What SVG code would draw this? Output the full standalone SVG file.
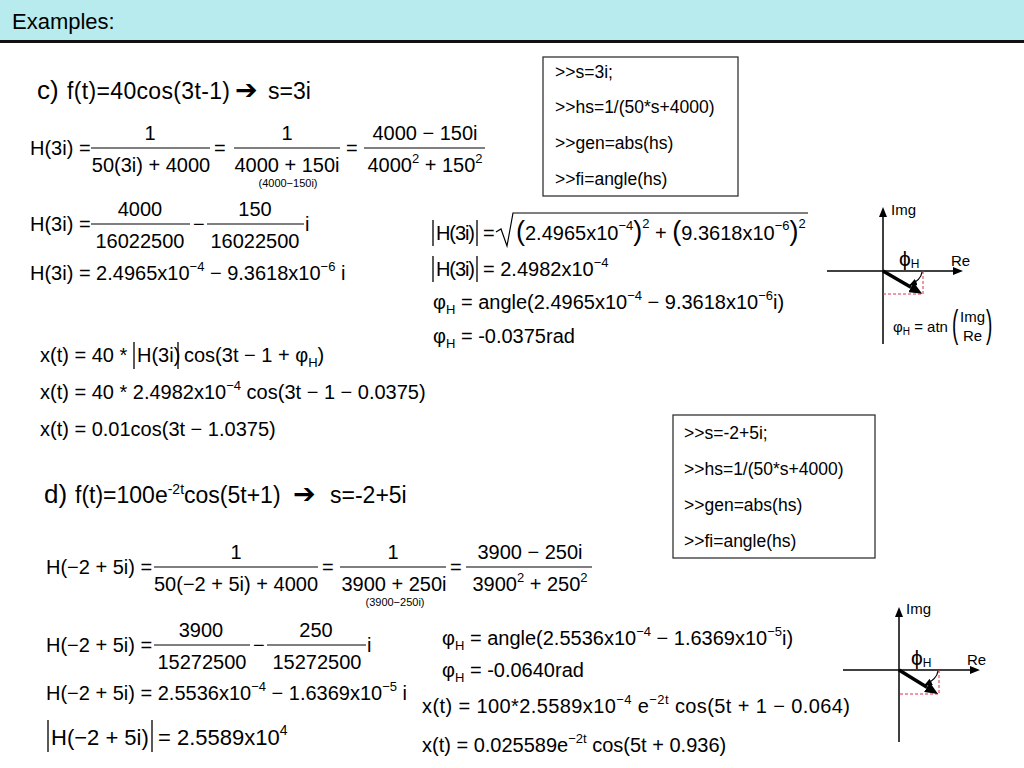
<svg xmlns="http://www.w3.org/2000/svg" width="1024" height="768" viewBox="0 0 1024 768">
<defs>
<style>
text{font-family:"Liberation Sans",Arial,"DejaVu Sans",sans-serif;fill:#000}
.m{font-size:20px}
.s{font-size:13px}
.sm{font-size:11px}
.c{font-size:17.5px}
.h{font-size:23px}
.mid{text-anchor:middle}
.bar{stroke:#000;stroke-width:1.2}
.ab{stroke:#000;stroke-width:1.3}
.ax{stroke:#000;stroke-width:1.5;fill:none}
.bold{stroke:#000;stroke-width:3.5;fill:none}
.thin{stroke:#000;stroke-width:1.2;fill:none}
.dash{stroke:#e0304a;stroke-width:1;stroke-dasharray:3 2;fill:none}
.box{fill:#fff;stroke:#333;stroke-width:1.3}
.lab{font-size:15px}
.arr{font-family:"DejaVu Sans",sans-serif;font-size:27px}
</style>
<marker id="tri" viewBox="0 0 10 8" refX="0" refY="4" markerWidth="10" markerHeight="8" markerUnits="userSpaceOnUse" orient="auto"><path d="M0,0 L10,4 L0,8 Z" fill="#000"/></marker>
<marker id="big" viewBox="0 0 13 11" refX="0" refY="5.5" markerWidth="13" markerHeight="11" markerUnits="userSpaceOnUse" orient="auto"><path d="M0,0 L13,5.5 L0,11 Z" fill="#000"/></marker>
<marker id="sm" viewBox="0 0 8 7" refX="7" refY="3.5" markerWidth="8" markerHeight="7" markerUnits="userSpaceOnUse" orient="auto"><path d="M0,0 L8,3.5 L0,7 Z" fill="#000"/></marker>
</defs>
<rect width="1024" height="768" fill="#fff"/>

<g id="title">
<rect x="0" y="0" width="1024" height="41" fill="#b8ebee"/>
<rect x="0" y="40" width="1024" height="3" fill="#111"/>
<text x="12" y="29" font-size="22">Examples:</text>
</g>

<g id="part-c">
<text x="37" y="99" font-size="26">c)</text>
<text x="67" y="99" class="h" textLength="163">f(t)=40cos(3t-1)</text>
<text x="235" y="99" class="arr">➔</text>
<text x="268" y="99" class="h">s=3i</text>

<text class="m" x="30" y="155">H(3i) =</text>
<line class="bar" x1="91" y1="148" x2="210" y2="148"/>
<text class="m mid" x="150" y="140">1</text>
<text class="m mid" x="151" y="172">50(3i) + 4000</text>
<text class="m" x="214" y="155">=</text>
<line class="bar" x1="234" y1="148" x2="340" y2="148"/>
<text class="m mid" x="287" y="140">1</text>
<text class="m mid" x="287" y="172">4000 + 150i</text>
<text class="sm mid" x="288" y="187">(4000−150i)</text>
<text class="m" x="346" y="155">=</text>
<line class="bar" x1="364" y1="148" x2="485" y2="148"/>
<text class="m mid" x="425" y="140">4000 − 150i</text>
<text class="m mid" x="425" y="172">4000<tspan class="s" dy="-9">2</tspan><tspan dy="9"> + 150</tspan><tspan class="s" dy="-9">2</tspan></text>

<text class="m" x="30" y="231">H(3i) =</text>
<line class="bar" x1="91" y1="224" x2="190" y2="224"/>
<text class="m mid" x="140" y="216">4000</text>
<text class="m mid" x="140" y="248">16022500</text>
<text class="m" x="193" y="231">−</text>
<line class="bar" x1="207" y1="224" x2="304" y2="224"/>
<text class="m mid" x="255" y="216">150</text>
<text class="m mid" x="255" y="248">16022500</text>
<text class="m" x="305" y="231">i</text>

<text class="m" x="30" y="280">H(3i) = 2.4965x10<tspan class="s" dy="-9">−4</tspan><tspan dy="9"> − 9.3618x10</tspan><tspan class="s" dy="-9">−6</tspan><tspan dy="9"> i</tspan></text>

<text class="m" x="40" y="362">x(t) = 40 *</text>
<line class="ab" x1="134" y1="342" x2="134" y2="369"/>
<text class="m" x="137" y="362">H(3i)</text>
<line class="ab" x1="178" y1="342" x2="178" y2="369"/>
<text class="m" x="184" y="362">cos(3t − 1 + φ<tspan class="s" dy="5">H</tspan><tspan dy="-5">)</tspan></text>

<text class="m" x="40" y="399">x(t) = 40 * 2.4982x10<tspan class="s" dy="-9">−4</tspan><tspan dy="9"> cos(3t − 1 − 0.0375)</tspan></text>
<text class="m" x="40" y="436">x(t) = 0.01cos(3t − 1.0375)</text>

<line class="ab" x1="433" y1="220" x2="433" y2="246"/>
<text class="m" x="436" y="240" textLength="39">H(3i)</text>
<line class="ab" x1="477" y1="220" x2="477" y2="246"/>
<text class="m" x="483" y="240">=</text>
<polyline class="thin" points="496,232 501,229 507,246 513,213 808,213"/>
<text class="m" x="516" y="240"><tspan font-size="27">(</tspan>2.4965x10<tspan class="s" dy="-10">−4</tspan><tspan font-size="27" dy="10">)</tspan><tspan class="s" dy="-12">2</tspan><tspan dy="12"> + </tspan><tspan font-size="27">(</tspan>9.3618x10<tspan class="s" dy="-10">−6</tspan><tspan font-size="27" dy="10">)</tspan><tspan class="s" dy="-12">2</tspan></text>

<line class="ab" x1="433" y1="256" x2="433" y2="282"/>
<text class="m" x="436" y="276" textLength="39">H(3i)</text>
<line class="ab" x1="477" y1="256" x2="477" y2="282"/>
<text class="m" x="483" y="276">= 2.4982x10<tspan class="s" dy="-9">−4</tspan></text>

<text class="m" x="433" y="309">φ<tspan class="s" dy="5">H</tspan><tspan dy="-5"> = angle(2.4965x10</tspan><tspan class="s" dy="-9">−4</tspan><tspan dy="9"> − 9.3618x10</tspan><tspan class="s" dy="-9">−6</tspan><tspan dy="9">i)</tspan></text>
<text class="m" x="433" y="343">φ<tspan class="s" dy="5">H</tspan><tspan dy="-5"> = -0.0375rad</tspan></text>
</g>

<g id="code-c">
<rect class="box" x="543" y="57" width="195" height="139"/>
<text class="c" x="555" y="78">&gt;&gt;s=3i;</text>
<text class="c" x="555" y="113">&gt;&gt;hs=1/(50*s+4000)</text>
<text class="c" x="555" y="149">&gt;&gt;gen=abs(hs)</text>
<text class="c" x="555" y="185">&gt;&gt;fi=angle(hs)</text>
</g>

<g id="phasor-c">
<line class="ax" x1="883" y1="344" x2="883" y2="217" marker-end="url(#tri)"/>
<line class="ax" x1="827" y1="271" x2="953" y2="271" marker-end="url(#tri)"/>
<text class="lab" x="891" y="215">Img</text>
<text class="lab" x="951" y="266">Re</text>
<text x="899" y="266" font-size="21">ϕ<tspan font-size="12" dy="2">H</tspan></text>
<path class="dash" d="M923,271 V294 H883"/>
<line class="bold" x1="883" y1="271" x2="911" y2="287.3" marker-end="url(#big)"/>
<path class="thin" d="M922,272 Q921,280 910,285" marker-end="url(#sm)"/>
<text x="893" y="332" font-size="15">φ<tspan font-size="10" dy="3">H</tspan><tspan dy="-3"> = atn</tspan></text>
<text transform="translate(952,337) scale(0.5,1)" font-size="38">(</text>
<text x="960" y="322" font-size="15">Img</text>
<text x="963" y="341" font-size="15">Re</text>
<text transform="translate(986,337) scale(0.5,1)" font-size="38">)</text>
</g>

<g id="part-d">
<text x="44" y="503" font-size="26">d)</text>
<text x="75" y="503" class="h">f(t)=100e<tspan font-size="14" dy="-9">-2t</tspan><tspan dy="9">cos(5t+1)</tspan></text>
<text x="293" y="503" class="arr">➔</text>
<text x="330" y="503" class="h">s=-2+5i</text>

<text class="m" x="46" y="574">H(−2 + 5i) =</text>
<line class="bar" x1="154" y1="567" x2="318" y2="567"/>
<text class="m mid" x="236" y="559">1</text>
<text class="m mid" x="236" y="591">50(−2 + 5i) + 4000</text>
<text class="m" x="322" y="574">=</text>
<line class="bar" x1="340" y1="567" x2="446" y2="567"/>
<text class="m mid" x="393" y="559">1</text>
<text class="m mid" x="394" y="591">3900 + 250i</text>
<text class="sm mid" x="395" y="606">(3900−250i)</text>
<text class="m" x="450" y="574">=</text>
<line class="bar" x1="466" y1="567" x2="592" y2="567"/>
<text class="m mid" x="530" y="559">3900 − 250i</text>
<text class="m mid" x="530" y="591">3900<tspan class="s" dy="-9">2</tspan><tspan dy="9"> + 250</tspan><tspan class="s" dy="-9">2</tspan></text>

<text class="m" x="46" y="652">H(−2 + 5i) =</text>
<line class="bar" x1="154" y1="645" x2="250" y2="645"/>
<text class="m mid" x="201" y="637">3900</text>
<text class="m mid" x="202" y="669">15272500</text>
<text class="m" x="253" y="652">−</text>
<line class="bar" x1="267" y1="645" x2="366" y2="645"/>
<text class="m mid" x="316" y="637">250</text>
<text class="m mid" x="317" y="669">15272500</text>
<text class="m" x="367" y="652">i</text>

<text class="m" x="46" y="700">H(−2 + 5i) = 2.5536x10<tspan class="s" dy="-9">−4</tspan><tspan dy="9"> − 1.6369x10</tspan><tspan class="s" dy="-9">−5</tspan><tspan dy="9"> i</tspan></text>

<line class="ab" x1="48" y1="720" x2="48" y2="752"/>
<text x="51" y="745" font-size="22">H(−2 + 5i)</text>
<line class="ab" x1="152" y1="720" x2="152" y2="752"/>
<text x="158" y="745" font-size="22">= 2.5589x10<tspan font-size="14" dy="-10">4</tspan></text>

<text class="m" x="442" y="645">φ<tspan class="s" dy="5">H</tspan><tspan dy="-5"> = angle(2.5536x10</tspan><tspan class="s" dy="-9">−4</tspan><tspan dy="9"> − 1.6369x10</tspan><tspan class="s" dy="-9">−5</tspan><tspan dy="9">i)</tspan></text>
<text class="m" x="442" y="677">φ<tspan class="s" dy="5">H</tspan><tspan dy="-5"> = -0.0640rad</tspan></text>
<text class="m" x="422" y="713" textLength="428">x(t) = 100*2.5589x10<tspan class="s" dy="-9">−4</tspan><tspan dy="9"> e</tspan><tspan class="s" dy="-9">−2t</tspan><tspan dy="9"> cos(5t + 1 − 0.064)</tspan></text>
<text class="m" x="422" y="752">x(t) = 0.025589e<tspan class="s" dy="-9">−2t</tspan><tspan dy="9"> cos(5t + 0.936)</tspan></text>
</g>

<g id="code-d">
<rect class="box" x="673" y="415" width="202" height="143"/>
<text class="c" x="684" y="439">&gt;&gt;s=-2+5i;</text>
<text class="c" x="684" y="475">&gt;&gt;hs=1/(50*s+4000)</text>
<text class="c" x="684" y="511">&gt;&gt;gen=abs(hs)</text>
<text class="c" x="684" y="547">&gt;&gt;fi=angle(hs)</text>
</g>

<g id="phasor-d">
<line class="ax" x1="899" y1="742" x2="899" y2="617" marker-end="url(#tri)"/>
<line class="ax" x1="843" y1="670" x2="970" y2="670" marker-end="url(#tri)"/>
<text class="lab" x="906" y="614">Img</text>
<text class="lab" x="967" y="665">Re</text>
<text x="911" y="665" font-size="21">ϕ<tspan font-size="12" dy="2">H</tspan></text>
<path class="dash" d="M939,670 V694 H899"/>
<line class="bold" x1="899" y1="670" x2="927" y2="687.2" marker-end="url(#big)"/>
<path class="thin" d="M938,671 Q937,679 925,685" marker-end="url(#sm)"/>
</g>
</svg>
